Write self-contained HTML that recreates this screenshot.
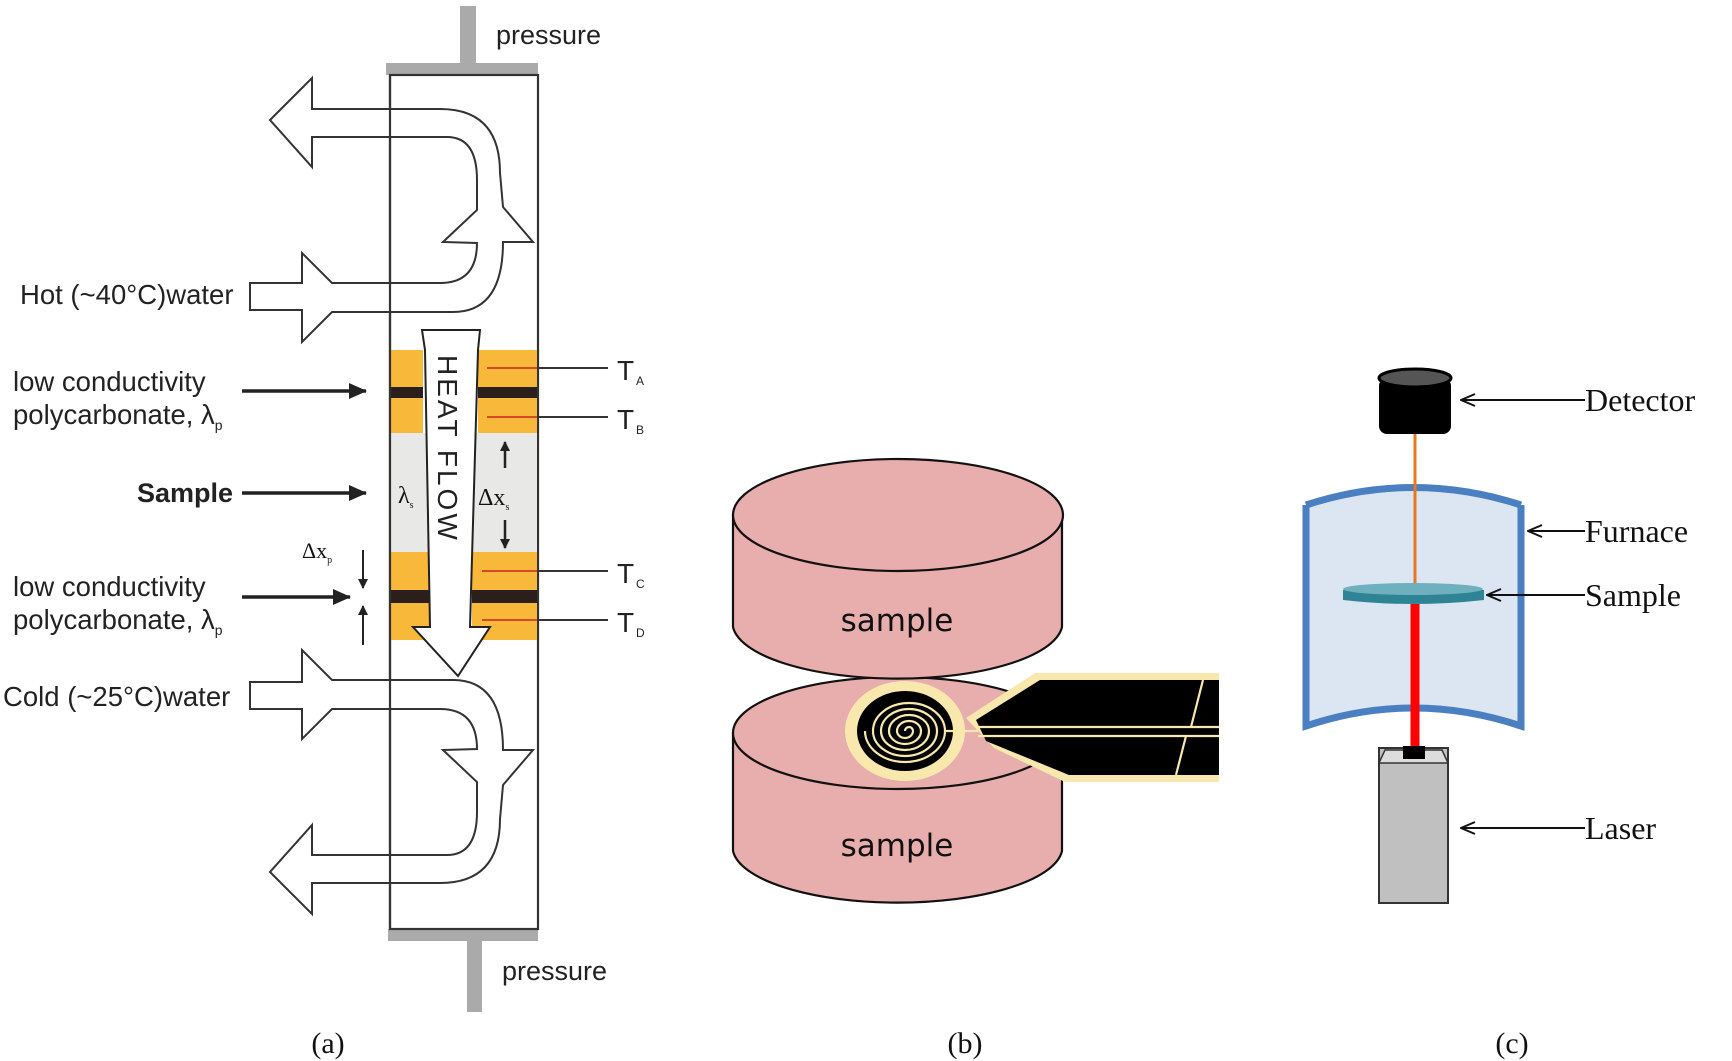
<!DOCTYPE html>
<html><head><meta charset="utf-8"><style>
html,body{margin:0;padding:0;background:#fff}
svg{display:block}
.s{font-family:"Liberation Sans",sans-serif;fill:#222}
.t{font-family:"Liberation Serif",serif;fill:#111}
</style></head><body>
<svg width="1732" height="1061" viewBox="0 0 1732 1061" xmlns="http://www.w3.org/2000/svg">
<defs>
<marker id="ah" markerWidth="10" markerHeight="10" refX="9" refY="5" orient="auto" markerUnits="userSpaceOnUse"><path d="M0,0 L10,5 L0,10 Z" fill="#222"/></marker>
<marker id="ab" markerWidth="18" markerHeight="16" refX="17" refY="8" orient="auto" markerUnits="userSpaceOnUse"><path d="M0,0 L18,8 L0,16 Z" fill="#222"/></marker>
<marker id="ac" markerWidth="16" markerHeight="14" refX="15" refY="7" orient="auto-start-reverse" markerUnits="userSpaceOnUse"><path d="M1,1 L15,7 L1,13" fill="none" stroke="#111" stroke-width="2"/></marker>
</defs>

<!-- ===== Panel (a) ===== -->
<rect x="460" y="6" width="16" height="60" fill="#aaa"/>
<rect x="386" y="63" width="152" height="12" fill="#aaa"/>
<rect x="467" y="940" width="15" height="72" fill="#aaa"/>
<rect x="388" y="929" width="150" height="12" fill="#aaa"/>
<text class="s" x="496" y="44" font-size="27">pressure</text>
<text class="s" x="502" y="980" font-size="27">pressure</text>
<rect x="390" y="75" width="148" height="854" fill="none" stroke="#333" stroke-width="2.2"/>

<!-- bands -->
<rect x="391" y="350" width="32" height="83" fill="#f8b83a"/>
<rect x="478" y="350" width="59" height="83" fill="#f8b83a"/>
<rect x="391" y="387" width="32" height="11" fill="#2a1f1a"/>
<rect x="478" y="387" width="59" height="11" fill="#2a1f1a"/>
<rect x="391" y="433" width="146" height="119" fill="#e8e8e6"/>
<rect x="391" y="552" width="39" height="88" fill="#f8b83a"/>
<rect x="472" y="552" width="65" height="88" fill="#f8b83a"/>
<rect x="391" y="590" width="39" height="13" fill="#2a1f1a"/>
<rect x="472" y="590" width="65" height="13" fill="#2a1f1a"/>
<g stroke="#c22" stroke-width="1.5"><line x1="487" y1="368" x2="537" y2="368"/><line x1="487" y1="417" x2="537" y2="417"/><line x1="482" y1="571" x2="537" y2="571"/><line x1="482" y1="620" x2="537" y2="620"/></g>
<g stroke="#333" stroke-width="2"><line x1="537" y1="368" x2="608" y2="368"/><line x1="537" y1="417" x2="608" y2="417"/><line x1="537" y1="571" x2="608" y2="571"/><line x1="537" y1="620" x2="608" y2="620"/></g>
<g class="s" font-size="28"><text x="617" y="380">T</text><text x="617" y="429">T</text><text x="617" y="583">T</text><text x="617" y="632">T</text></g>
<g class="s" font-size="12"><text x="636" y="385">A</text><text x="636" y="434">B</text><text x="636" y="588">C</text><text x="636" y="637">D</text></g>

<!-- heat flow arrow -->
<path d="M422,330 L480,330 L478,350 L470,627 L490,627 L458,676 L413,627 L430,627 L425,350 Z" fill="#fff" stroke="#222" stroke-width="2"/>
<text class="s" font-size="28" letter-spacing="3" transform="translate(438,355) rotate(90)">HEAT  FLOW</text>
<text class="t" x="398" y="503" font-size="24" fill="#333">λ<tspan font-size="10" dy="5">s</tspan></text>
<text class="t" x="478" y="505" font-size="24" fill="#333">Δx<tspan font-size="10" dy="5">s</tspan></text>
<line x1="505" y1="468" x2="505" y2="442" stroke="#222" stroke-width="2.5" marker-end="url(#ah)"/>
<line x1="505" y1="520" x2="505" y2="548" stroke="#222" stroke-width="2.5" marker-end="url(#ah)"/>

<!-- water arrows -->
<path id="wa" d="M270,120 L312,78 L312,109 L440,109 Q500,109 500,173 L503,207 L533,242 L503,242 Q503,312 453,312 L332,312 L302,342 L302,310 L250,310 L250,283 L302,283 L302,253 L332,283 L440,283 Q477,283 477,243 L443,242 L477,210 L477,180 Q477,137 447,137 L312,137 L312,167 Z" fill="#fff" stroke="#333" stroke-width="2"/>
<g transform="translate(0,992) scale(1,-1)"><use href="#wa"/></g>
<line x1="390" y1="75" x2="390" y2="929" stroke="#333" stroke-width="2.2"/>

<!-- left labels -->
<g class="s" font-size="27.5">
<text x="20" y="304">Hot (~40°C)water</text>
<text x="13" y="391">low conductivity</text>
<text x="13" y="424">polycarbonate, λ<tspan font-size="14" dy="6">p</tspan></text>
<text x="137" y="502" font-weight="bold" font-size="27">Sample</text>
<text x="13" y="596">low conductivity</text>
<text x="13" y="629">polycarbonate, λ<tspan font-size="14" dy="6">p</tspan></text>
<text x="3" y="706">Cold (~25°C)water</text>
</g>
<text class="t" x="302" y="558" font-size="22" fill="#333">Δx<tspan font-size="10" dy="5">p</tspan></text>
<g stroke="#222" stroke-width="3.5">
<line x1="242" y1="391" x2="366" y2="391" marker-end="url(#ab)"/>
<line x1="242" y1="493" x2="366" y2="493" marker-end="url(#ab)"/>
<line x1="242" y1="597" x2="350" y2="597" marker-end="url(#ab)"/>
</g>
<line x1="363" y1="550" x2="363" y2="588" stroke="#222" stroke-width="2" marker-end="url(#ah)"/>
<line x1="363" y1="645" x2="363" y2="606" stroke="#222" stroke-width="2" marker-end="url(#ah)"/>

<!-- ===== Panel (b) ===== -->
<g transform="translate(-10,-4)">
<g stroke="#111" stroke-width="2.2">
<path d="M743,737 L743,855 A165,56 0 0 0 1072,855 L1072,737 Z" fill="#e8adad"/>
<ellipse cx="908" cy="737" rx="165" ry="56" fill="#e8adad"/>
<path d="M743,519 L743,631 A165,56 0 0 0 1072,631 L1072,519 Z" fill="#e8adad"/>
<ellipse cx="908" cy="519" rx="165" ry="56" fill="#e8adad"/>
</g>
<text x="907" y="635" font-family="DejaVu Sans,sans-serif" font-size="31" text-anchor="middle" fill="#111">sample</text>
<text x="907" y="860" font-family="DejaVu Sans,sans-serif" font-size="31" text-anchor="middle" fill="#111">sample</text>
<!-- sensor -->
<path d="M976,722 L1045,677 L1229,677 L1229,786 L1075,786 L1004,752 Z" fill="#f8e8ae"/>
<ellipse cx="915" cy="735" rx="60" ry="50" fill="#f8e8ae"/>
<path d="M986,724 L1050,684 L1229,684 L1229,779 L1079,779 L996,745 Z" fill="#000"/>
<ellipse cx="915" cy="735" rx="48" ry="40" fill="#000"/>
<g stroke="#f8e8ae" stroke-width="2.2" fill="none">
<line x1="988" y1="731" x2="1229" y2="731"/><line x1="988" y1="740" x2="1229" y2="740"/>
<line x1="1213" y1="684" x2="1201" y2="731"/><line x1="1196" y1="740" x2="1186" y2="779"/>
<path d="M915,735 m0,0 a4,4 0 0 1 8,0 a8,7 0 0 1 -16,0 a12,10 0 0 1 24,0 a16,13 0 0 1 -32,0 a20,16 0 0 1 40,0 a24,19 0 0 1 -48,0 a28,22 0 0 1 56,0 a32,25 0 0 1 -64,0 a36,28 0 0 1 72,0 a40,31 0 0 1 -80,0"/>
<path d="M955,735 L988,735"/>
</g>
</g>

<!-- ===== Panel (c) ===== -->
<g transform="translate(-15,0)">
<rect x="1394" y="378" width="72" height="56" rx="8" fill="#000"/>
<ellipse cx="1430" cy="378" rx="36" ry="9" fill="#555" stroke="#000" stroke-width="3"/>
<path d="M1321,505 Q1428,470 1536,505 L1536,726 Q1428,690 1321,726 Z" fill="#dce6f2"/>
<path d="M1321,505 Q1428,470 1536,505 M1536,505 L1536,726 Q1428,690 1321,726 L1321,505" fill="none" stroke="#4a7fc1" stroke-width="7"/>
<line x1="1430" y1="434" x2="1430" y2="586" stroke="#e8781e" stroke-width="3"/>
<line x1="1430" y1="604" x2="1430" y2="748" stroke="#f00" stroke-width="9"/>
<path d="M1358,590 L1358,600 Q1428,608 1499,600 L1499,590 Z" fill="#2e8395"/>
<ellipse cx="1428" cy="589" rx="70" ry="6" fill="#6fb0bf"/>
<rect x="1394" y="748" width="69" height="155" fill="#c0c0c0" stroke="#333" stroke-width="2"/>
<path d="M1394,763 L1400,750 L1457,750 L1463,763 Z" fill="#ddd" stroke="#333" stroke-width="1.5"/>
<rect x="1418" y="746" width="22" height="13" fill="#000"/>
<g stroke="#111" stroke-width="2">
<line x1="1476" y1="400" x2="1600" y2="400" marker-start="url(#ac)"/>
<line x1="1543" y1="531" x2="1600" y2="531" marker-start="url(#ac)"/>
<line x1="1502" y1="595" x2="1600" y2="595" marker-start="url(#ac)"/>
<line x1="1476" y1="828" x2="1600" y2="828" marker-start="url(#ac)"/>
</g>
<g class="t" font-size="32">
<text x="1600" y="411">Detector</text>
<text x="1600" y="542">Furnace</text>
<text x="1600" y="606">Sample</text>
<text x="1600" y="839">Laser</text>
</g>
</g>

<!-- captions -->
<g class="t" font-size="30" text-anchor="middle">
<text x="328" y="1053">(a)</text>
<text x="965" y="1053">(b)</text>
<text x="1512" y="1053">(c)</text>
</g>
</svg>
</body></html>
